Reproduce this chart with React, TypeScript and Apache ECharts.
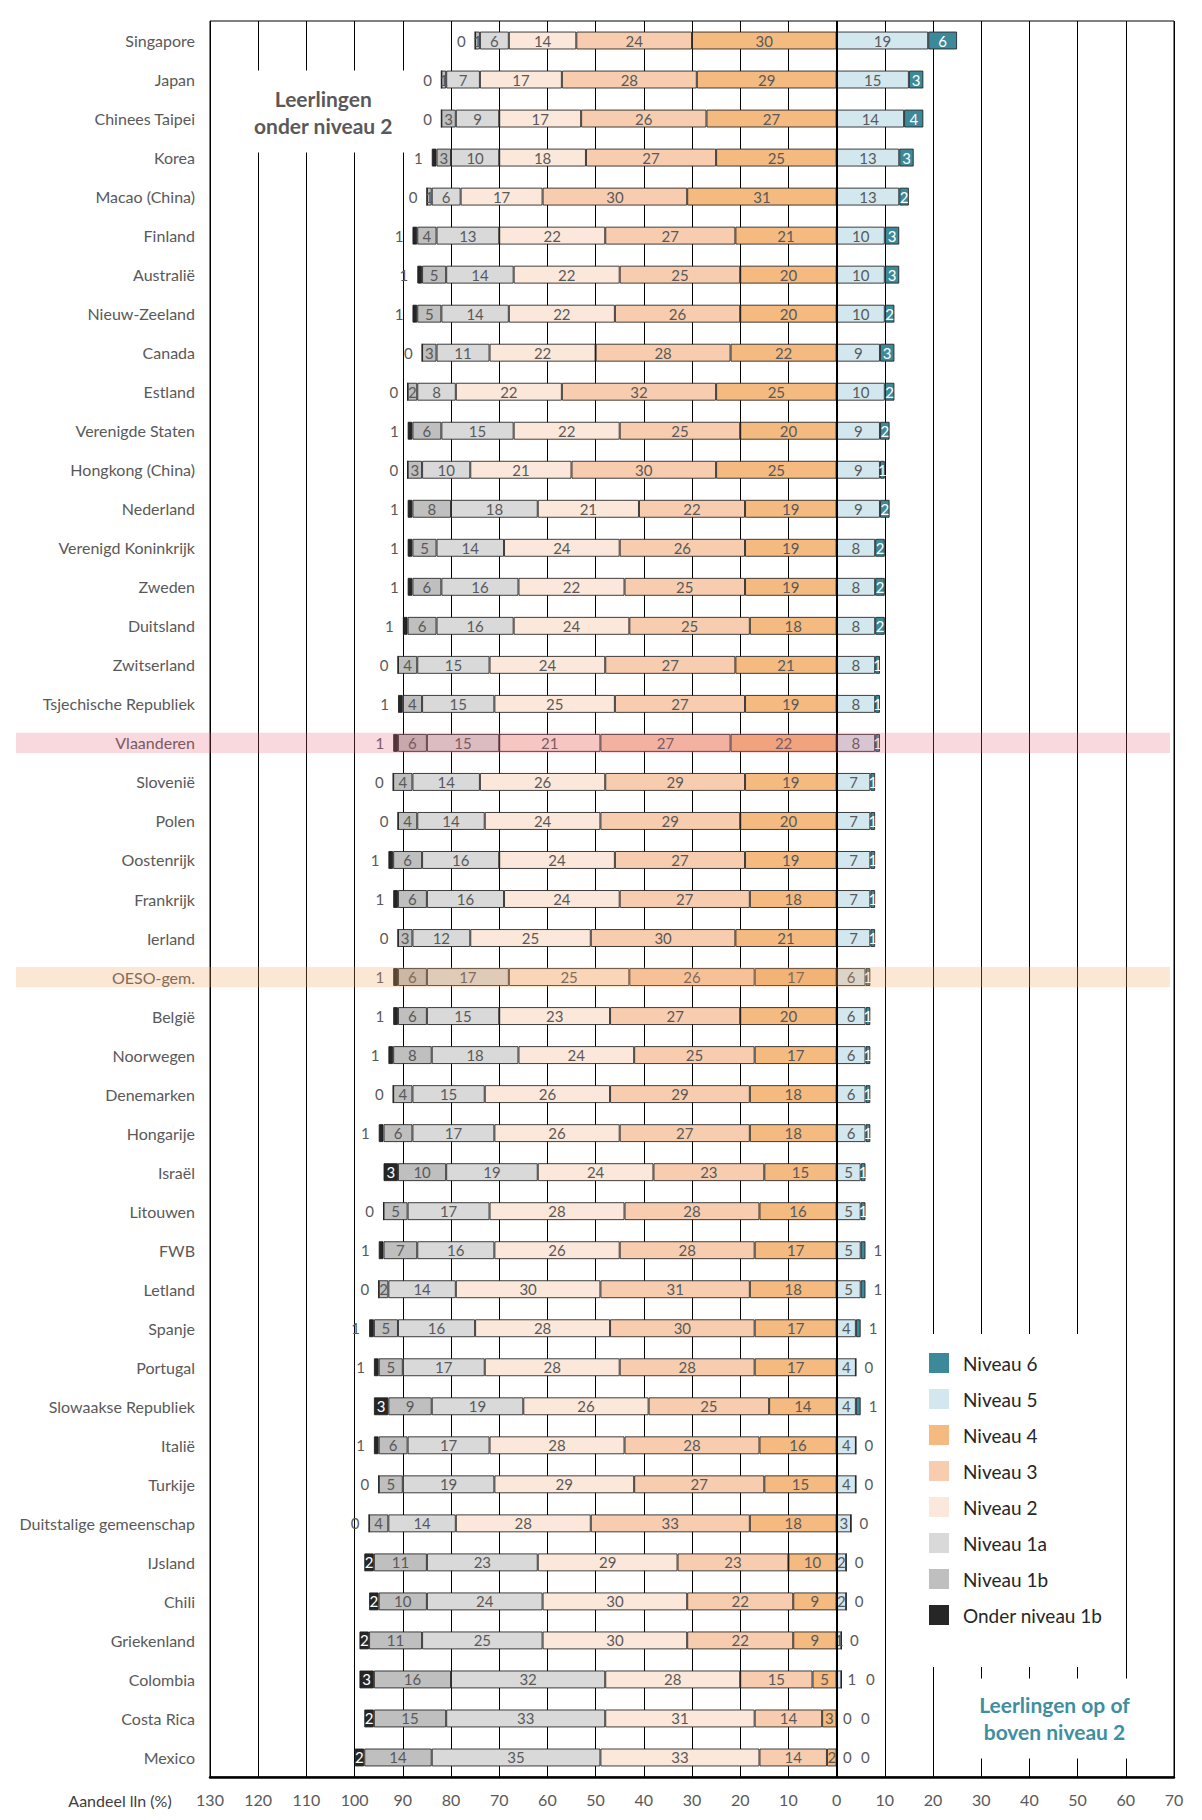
import React, { useEffect, useRef } from "react";
import * as echarts from "echarts";

// ---- Data (percentages of students per proficiency level) ----
const countries = [
  "Singapore", "Japan", "Chinees Taipei", "Korea", "Macao (China)", "Finland", "Australië",
  "Nieuw-Zeeland", "Canada", "Estland", "Verenigde Staten", "Hongkong (China)", "Nederland",
  "Verenigd Koninkrijk", "Zweden", "Duitsland", "Zwitserland", "Tsjechische Republiek",
  "Vlaanderen", "Slovenië", "Polen", "Oostenrijk", "Frankrijk", "Ierland", "OESO-gem.",
  "België", "Noorwegen", "Denemarken", "Hongarije", "Israël", "Litouwen", "FWB", "Letland",
  "Spanje", "Portugal", "Slowaakse Republiek", "Italië", "Turkije", "Duitstalige gemeenschap",
  "IJsland", "Chili", "Griekenland", "Colombia", "Costa Rica", "Mexico",
];

const onderNiveau1b = [0, 0, 0, 1, 0, 1, 1, 1, 0, 0, 1, 0, 1, 1, 1, 1, 0, 1, 1, 0, 0, 1, 1, 0, 1, 1, 1, 0, 1, 3, 0, 1, 0, 1, 1, 3, 1, 0, 0, 2, 2, 2, 3, 2, 2];
const niveau1b = [1, 1, 3, 3, 1, 4, 5, 5, 3, 2, 6, 3, 8, 5, 6, 6, 4, 4, 6, 4, 4, 6, 6, 3, 6, 6, 8, 4, 6, 10, 5, 7, 2, 5, 5, 9, 6, 5, 4, 11, 10, 11, 16, 15, 14];
const niveau1a = [6, 7, 9, 10, 6, 13, 14, 14, 11, 8, 15, 10, 18, 14, 16, 16, 15, 15, 15, 14, 14, 16, 16, 12, 17, 15, 18, 15, 17, 19, 17, 16, 14, 16, 17, 19, 17, 19, 14, 23, 24, 25, 32, 33, 35];
const niveau2 = [14, 17, 17, 18, 17, 22, 22, 22, 22, 22, 22, 21, 21, 24, 22, 24, 24, 25, 21, 26, 24, 24, 24, 25, 25, 23, 24, 26, 26, 24, 28, 26, 30, 28, 28, 26, 28, 29, 28, 29, 30, 30, 28, 31, 33];
const niveau3 = [24, 28, 26, 27, 30, 27, 25, 26, 28, 32, 25, 30, 22, 26, 25, 25, 27, 27, 27, 29, 29, 27, 27, 30, 26, 27, 25, 29, 27, 23, 28, 28, 31, 30, 28, 25, 28, 27, 33, 23, 22, 22, 15, 14, 14];
const niveau4 = [30, 29, 27, 25, 31, 21, 20, 20, 22, 25, 20, 25, 19, 19, 19, 18, 21, 19, 22, 19, 20, 19, 18, 21, 17, 20, 17, 18, 18, 15, 16, 17, 18, 17, 17, 14, 16, 15, 18, 10, 9, 9, 5, 3, 2];
const niveau5 = [19, 15, 14, 13, 13, 10, 10, 10, 9, 10, 9, 9, 9, 8, 8, 8, 8, 8, 8, 7, 7, 7, 7, 7, 6, 6, 6, 6, 6, 5, 5, 5, 5, 4, 4, 4, 4, 4, 3, 2, 2, 1, 1, 0, 0];
const niveau6 = [6, 3, 4, 3, 2, 3, 3, 2, 3, 2, 2, 1, 2, 2, 2, 2, 1, 1, 1, 1, 1, 1, 1, 1, 1, 1, 1, 1, 1, 1, 1, 1, 1, 1, 0, 1, 0, 0, 0, 0, 0, 0, 0, 0, 0];

// rows whose label sits to the right of the bar
const level5LabelOutside = ["Colombia", "Costa Rica", "Mexico"];
const level6LabelOutside = [
  "FWB", "Letland", "Spanje", "Portugal", "Slowaakse Republiek", "Italië", "Turkije",
  "Duitstalige gemeenschap", "IJsland", "Chili", "Griekenland", "Colombia", "Costa Rica", "Mexico",
];
const highlighted = ["Vlaanderen", "OESO-gem."];

const axisTicks = { min: -130, max: 70, interval: 10 };

const legendOrder = [
  "Niveau 6", "Niveau 5", "Niveau 4", "Niveau 3", "Niveau 2", "Niveau 1a", "Niveau 1b", "Onder niveau 1b",
];

export default function App() {
  const ref = useRef<HTMLDivElement>(null);

  useEffect(() => {
    const el = ref.current!;
    const chart = echarts.init(el, null, { renderer: "svg" });
    const font = "Lato, 'Open Sans', sans-serif";
    const grey = "#595959";
    const border = "rgba(30,30,30,0.85)";
    const absFmt = (p: any) => String(Math.abs(p.value));

    const makeSeries = (
      name: string,
      values: number[],
      color: string,
      sign: number,
      labelColor: string,
      itemLabel?: (v: number, i: number) => any
    ) => ({
      name,
      type: "bar",
      stack: "pisa",
      barWidth: "46%",
      itemStyle: { color, borderColor: border, borderWidth: 1 },
      label: {
        show: true,
        position: "inside",
        fontFamily: font,
        fontSize: 15,
        color: labelColor,
        formatter: absFmt,
      },
      emphasis: { disabled: true },
      data: values.map((v, i) => {
        const item: any = { value: sign * v };
        const l = itemLabel ? itemLabel(v, i) : null;
        if (l) item.label = l;
        return item;
      }),
    });

    const s5: any = makeSeries("Niveau 5", niveau5, "#D3E8EE", 1, grey, (v, i) =>
      level5LabelOutside.includes(countries[i]) ? { position: "right", distance: 6, color: grey } : null
    );
    s5.markLine = {
      silent: true,
      symbol: ["none", "none"],
      label: { show: false },
      lineStyle: { color: "#000", width: 2, type: "solid" },
      data: [{ xAxis: 0 }],
    };
    const s6 = makeSeries("Niveau 6", niveau6, "#3C8A99", 1, "#ffffff", (v, i) =>
      level6LabelOutside.includes(countries[i])
        ? {
            position: "right",
            distance: level5LabelOutside.includes(countries[i]) ? 24 : 8,
            color: grey,
          }
        : null
    );
    const s4 = makeSeries("Niveau 4", niveau4, "#F4BA80", -1, grey);
    const s3 = makeSeries("Niveau 3", niveau3, "#F8CDAF", -1, grey);
    const s2 = makeSeries("Niveau 2", niveau2, "#FCE8DA", -1, grey);
    const s1a = makeSeries("Niveau 1a", niveau1a, "#D9D9D9", -1, grey);
    const s1b = makeSeries("Niveau 1b", niveau1b, "#BFBFBF", -1, grey);
    const s0 = makeSeries("Onder niveau 1b", onderNiveau1b, "#262626", -1, "#ffffff", (v) =>
      v <= 1 ? { position: "left", distance: 9, color: grey } : null
    );

    chart.setOption({
      animation: false,
      backgroundColor: "#ffffff",
      textStyle: { fontFamily: font },
      grid: {
        left: 210,
        right: 28,
        top: 21,
        bottom: 43,
        show: true,
        borderColor: "#000",
        borderWidth: 1,
        backgroundColor: "transparent",
      },
      legend: {
        data: legendOrder,
        orient: "vertical",
        left: 920,
        top: 1334,
        padding: [19, 22, 42, 9],
        itemWidth: 20,
        itemHeight: 20,
        itemGap: 16,
        icon: "rect",
        backgroundColor: "#ffffff",
        selectedMode: false,
        itemStyle: { borderWidth: 0 },
        textStyle: { fontFamily: font, fontSize: 19, color: "#262626", padding: [0, 0, 0, 9] },
      },
      xAxis: {
        type: "value",
        min: axisTicks.min,
        max: axisTicks.max,
        interval: axisTicks.interval,
        axisLine: { show: true, lineStyle: { color: "#000", width: 2.5 } },
        axisTick: { show: false },
        splitLine: { show: true, lineStyle: { color: "#000", width: 1 } },
        axisLabel: {
          fontFamily: font,
          fontSize: 16,
          color: grey,
          margin: 14,
          formatter: (v: number) => String(Math.abs(v)),
        },
      },
      yAxis: {
        type: "category",
        data: countries,
        inverse: true,
        axisLine: { show: false },
        axisTick: { show: false },
        splitLine: { show: false },
        axisLabel: { fontFamily: font, fontSize: 16, color: grey, margin: 15 },
      },
      series: [s5, s6, s4, s3, s2, s1a, s1b, s0],
    });

    const xPix = (v: number) => chart.convertToPixel({ xAxisIndex: 0 }, v) as number;
    const yPix = (c: string) => chart.convertToPixel({ yAxisIndex: 0 }, c) as number;
    const step = yPix(countries[1]) - yPix(countries[0]);
    const bandH = step * 0.52;
    const rightEdge = xPix(axisTicks.max);
    const leftEdge = xPix(axisTicks.min);
    const bottomEdge = yPix(countries[countries.length - 1]) + step / 2;
    const bandColors = ["rgba(228,90,115,0.24)", "rgba(245,160,90,0.26)"];

    const graphics: any[] = highlighted.map((name, k) => ({
      type: "rect",
      silent: true,
      z: 50,
      shape: { x: 16, y: yPix(name) - bandH / 2, width: rightEdge - 4 - 16, height: bandH },
      style: { fill: bandColors[k] },
    }));

    graphics.push({
      type: "text",
      silent: true,
      z: 1,
      x: xPix(-106.5),
      y: yPix(countries[1]) + step * 0.82,
      style: {
        text: "Leerlingen\nonder niveau 2",
        font: `bold 21px ${font}`,
        fill: grey,
        align: "center",
        verticalAlign: "middle",
        lineHeight: 27,
        backgroundColor: "#ffffff",
        padding: [14, 30, 14, 30],
      },
    });
    graphics.push({
      type: "text",
      silent: true,
      z: 1,
      x: xPix(45.2),
      y: yPix("Costa Rica"),
      style: {
        text: "Leerlingen op of\nboven niveau 2",
        font: `bold 21px ${font}`,
        fill: "#3E8FA1",
        align: "center",
        verticalAlign: "middle",
        lineHeight: 27,
        backgroundColor: "#ffffff",
        padding: [9, 28, 17, 28],
      },
    });
    graphics.push({
      type: "text",
      silent: true,
      z: 1,
      x: leftEdge - 90,
      y: bottomEdge + 23,
      style: {
        text: "Aandeel lln (%)",
        font: `16px ${font}`,
        fill: "#404040",
        align: "center",
        verticalAlign: "middle",
      },
    });

    chart.setOption({ graphic: graphics });

    return () => {
      chart.dispose();
    };
  }, []);

  return (
    <div
      ref={ref}
      style={{ position: "absolute", left: 0, top: 0, width: 1202, height: 1820, background: "#fff" }}
    />
  );
}
